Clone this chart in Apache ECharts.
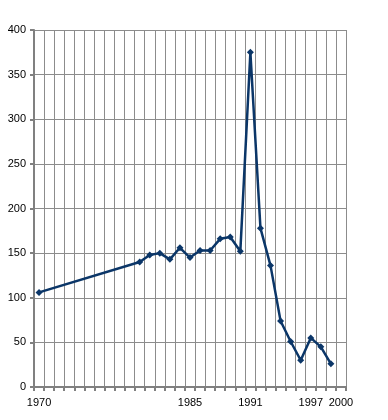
<!DOCTYPE html>
<html>
<head>
<meta charset="utf-8">
<script src="https://cdn.jsdelivr.net/npm/echarts@6/dist/echarts.min.js"></script>
<style>html,body{margin:0;padding:0;background:#fff}#c{width:388px;height:420px}</style>
</head>
<body>
<div id="c"></div>
<script>
var years = ['1970','1971','1972','1973','1974','1975','1976','1977','1978','1979',
             '1980','1981','1982','1983','1984','1985','1986','1987','1988','1989',
             '1990','1991','1992','1993','1994','1995','1996','1997','1998','1999','2000'];
var values = [106, null, null, null, null, null, null, null, null, null,
              140, 148, 150, 143, 156, 145, 153, 153, 166, 168,
              152, 375, 178, 136, 74, 51, 30, 55, 45, 26, null];
var shownLabels = ['1970','1985','1991','1997','2000'];
var yTicks = {min: 0, max: 400, interval: 50};

var chart = echarts.init(document.getElementById('c'), null, {renderer: 'canvas'});
chart.setOption({
  animation: false,
  backgroundColor: '#ffffff',
  textStyle: {fontFamily: 'Liberation Sans, Arial, sans-serif'},
  grid: {left: 34, right: 42, top: 30, bottom: 33, containLabel: false},
  xAxis: {
    type: 'category',
    data: years,
    boundaryGap: true,
    axisLine: {lineStyle: {color: '#808080', width: 2}},
    axisTick: {show: true, interval: 0, length: 4, lineStyle: {color: '#808080', width: 2}},
    axisLabel: {
      interval: function (i, v) { return shownLabels.indexOf(v) >= 0; },
      color: '#000', fontSize: 11, margin: 10,
      fontFamily: 'Liberation Sans, Arial, sans-serif'
    },
    splitLine: {show: true, interval: 0, lineStyle: {color: '#8c8c8c', width: 1}}
  },
  yAxis: {
    type: 'value',
    min: yTicks.min, max: yTicks.max, interval: yTicks.interval,
    axisLine: {show: true, lineStyle: {color: '#808080', width: 2}},
    axisTick: {show: true, length: 4, lineStyle: {color: '#808080', width: 2}},
    axisLabel: {color: '#000', fontSize: 11, margin: 8,
      fontFamily: 'Liberation Sans, Arial, sans-serif'},
    splitLine: {show: true, lineStyle: {color: '#8c8c8c', width: 1}}
  },
  series: [{
    type: 'line',
    data: values,
    connectNulls: true,
    symbol: 'diamond',
    symbolSize: 7,
    showAllSymbol: true,
    itemStyle: {color: '#0b3668'},
    lineStyle: {color: '#0b3668', width: 2.5}
  }]
});
</script>
</body>
</html>
